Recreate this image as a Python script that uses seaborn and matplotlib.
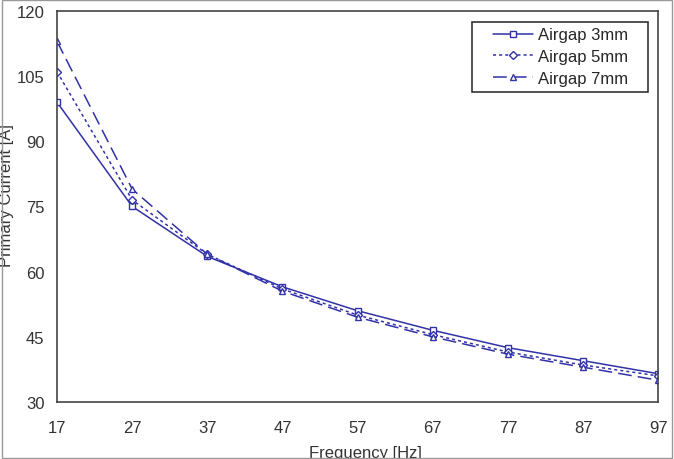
import matplotlib
matplotlib.use('Agg')
from matplotlib import pyplot as plt
import seaborn as sns
import pandas as pd

# data
freq = [17, 27, 37, 47, 57, 67, 77, 87, 97]
gap_3mm = [99, 75, 63.5, 56.5, 51, 46.5, 42.5, 39.5, 36.5]
gap_5mm = [106, 76.5, 64, 56, 50, 45.5, 41.5, 38.5, 36]
gap_7mm = [113, 79, 64, 55.5, 49.5, 45, 41, 38, 35]
x_ticks = [17, 27, 37, 47, 57, 67, 77, 87, 97]
y_ticks = [30, 45, 60, 75, 90, 105, 120]

sns.set_style('white')
plt.rcParams['font.family'] = ['Liberation Sans', 'DejaVu Sans']

fig = plt.figure(figsize=(6.74, 4.6), dpi=100)
ax = fig.add_axes([0.0846, 0.124, 0.892, 0.85])

line_col = '#3232a8'
series = [
    ('Airgap 3mm', gap_3mm, 's', '-'),
    ('Airgap 5mm', gap_5mm, 'D', (0, (2, 2))),
    ('Airgap 7mm', gap_7mm, '^', (0, (9, 4))),
]
for name, vals, mk, ls in series:
    df = pd.DataFrame({'freq': freq, 'current': vals})
    sns.lineplot(data=df, x='freq', y='current', ax=ax, color=line_col,
                 linewidth=1.1, linestyle=ls, marker=mk,
                 markersize=5 if mk != 'D' else 4,
                 markerfacecolor='white', markeredgecolor=line_col,
                 markeredgewidth=1, label=name)

ax.set_xlim(17, 97)
ax.set_ylim(30, 120)
ax.set_xticks(x_ticks)
ax.set_yticks(y_ticks)
ax.tick_params(direction='in', length=4, labelsize=12, colors='#333333')
ax.tick_params(axis='x', pad=13)
ax.tick_params(axis='y', pad=9)
for sp in ax.spines.values():
    sp.set_visible(True)
    sp.set_color('#444444')
    sp.set_linewidth(1.2)
ax.set_xlabel('Frequency [Hz]', fontsize=12, color='#333333')
ax.set_ylabel('Primary Current [A]', fontsize=12, color='#333333')
ax.xaxis.set_label_coords(0.513, -0.11)
ax.yaxis.set_label_coords(-0.072, 0.53)

leg = ax.legend(loc='upper right', bbox_to_anchor=(0.973, 0.994), fontsize=12,
                frameon=False, handlelength=2.4, handletextpad=0.3,
                borderpad=0.35, labelspacing=0.4)

# legend frame: wider horizontally than matplotlib's even padding
fig.canvas.draw()
bb = leg.get_window_extent()
inv = fig.transFigure.inverted()
(x0, y0), (x1, y1) = inv.transform([(bb.x0 - 15, bb.y0), (bb.x1 + 14, bb.y1)])
fig.patches.append(plt.Rectangle((x0, y0), x1 - x0, y1 - y0,
                                 transform=fig.transFigure, fill=False,
                                 edgecolor='#333333', linewidth=1.2, zorder=5))

# outer chart-area border
fig.patches.append(plt.Rectangle((0.003, 0.003), 0.994, 0.994,
                                 transform=fig.transFigure, fill=False,
                                 edgecolor='#999999', linewidth=1))

fig.savefig('out.png', dpi=100)
